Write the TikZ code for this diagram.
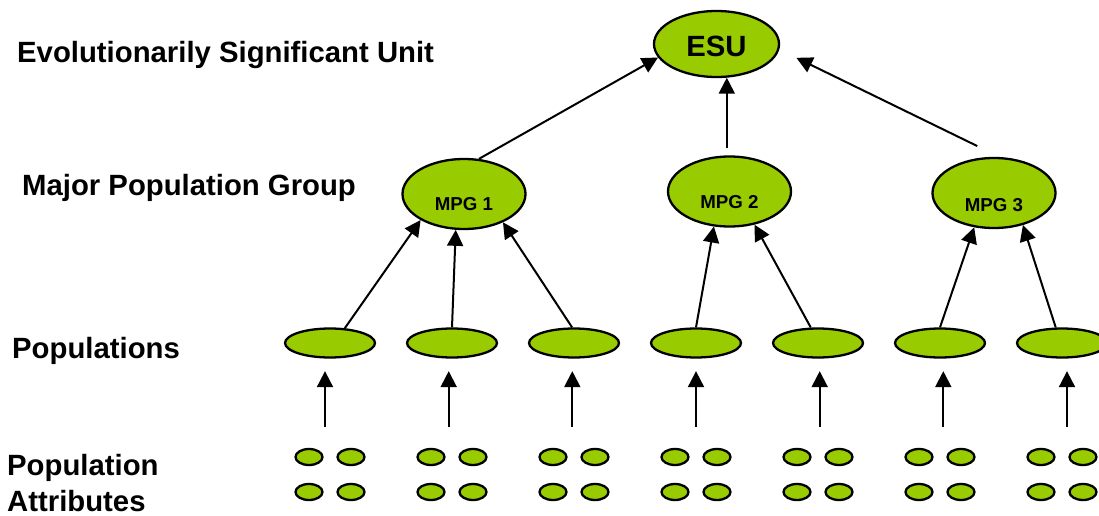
\documentclass[tikz,border=0pt]{standalone}
\usepackage{fontspec}
\setmainfont{Liberation Sans}
\usetikzlibrary{shapes.geometric,arrows.meta,calc}
\definecolor{leaf}{RGB}{153,204,0}
\tikzset{
  blob/.style={ellipse, draw=black, line width=2.3pt, fill=leaf, inner sep=0pt},
  esub/.style={blob, minimum width=125pt, minimum height=66pt},
  mpgb/.style={blob, minimum width=123pt, minimum height=70pt},
  popb/.style={blob, minimum width=90pt, minimum height=29pt},
  attb/.style={blob, minimum width=27pt, minimum height=16pt},
  arr/.style={line width=2pt, -{Triangle[width=16pt,length=16pt]}},
  lab/.style={font=\fontsize{29.3}{37}\selectfont\bfseries, inner sep=0pt, anchor=base west},
  mpgt/.style={font=\fontsize{18.7}{22}\selectfont\bfseries, inner sep=0pt},
}
\begin{document}
\begin{tikzpicture}[x=1pt,y=-1pt]
\useasboundingbox (0,0) rectangle (1099,516);
% level labels
\node[lab] (lesu) at (17,63) {Evolutionarily Significant Unit};
\node[lab] (lmpg) at (22,195) {Major Population Group};
\node[lab] (lpop) at (12,358) {Populations};
\node[lab] (latt1) at (7,475) {Population};
\node[lab] (latt2) at (7,511.5) {Attributes};
% ESU and MPGs
\node[esub, label={[font=\fontsize{29.3}{34}\selectfont\bfseries, yshift=-2pt]center:ESU}] (esu) at (716.5,44) {};
\node[mpgb, label={[mpgt, yshift=-10.5pt]center:MPG 1}] (m1) at (464,194) {};
\node[mpgb, label={[mpgt, yshift=-10.5pt]center:MPG 2}] (m2) at (729.5,191.5) {};
\node[mpgb, label={[mpgt, yshift=-12pt]center:MPG 3}] (m3) at (994,193) {};
% MPG -> ESU
\draw[arr] (m1.67) -- (esu.193);
\draw[arr, shorten <=7pt] (esu.287 |- m2.north) -- (esu.287);
\draw[arr, shorten <=25pt, shorten >=19pt] (m3.81) -- (esu.355);
% populations and attributes
\foreach \i/\x/\o in {1/330/-5,2/452/-3.3,3/574/-1.7,4/696/0,5/818/1.7,6/940/3.3,7/1062/5} {
  \node[popb] (p\i) at (\x,343) {};
  \node[attb] (a\i1) at (\x-21,457) {};
  \node[attb] (a\i2) at (\x+21,457) {};
  \node[attb] (a\i3) at (\x-21,492) {};
  \node[attb] (a\i4) at (\x+21,492) {};
  \draw[arr, shorten <=21pt, shorten >=12.5pt] ($(a\i1.north -| p\i.south)+(\o,0)$) -- ($(p\i.south)+(\o,0)$);
}
% populations -> MPGs
\draw[arr] (p1.45) -- (m1.211);
\draw[arr] (p2.north) -- (m1.257);
\draw[arr] (p3.97) -- (m1.324);
\draw[arr] (p4.north) -- (m2.246);
\draw[arr] (p5.115) -- (m2.307);
\draw[arr] (p6.north) -- (m3.240);
\draw[arr] (p7.112) -- (m3.312);
\end{tikzpicture}
\end{document}
